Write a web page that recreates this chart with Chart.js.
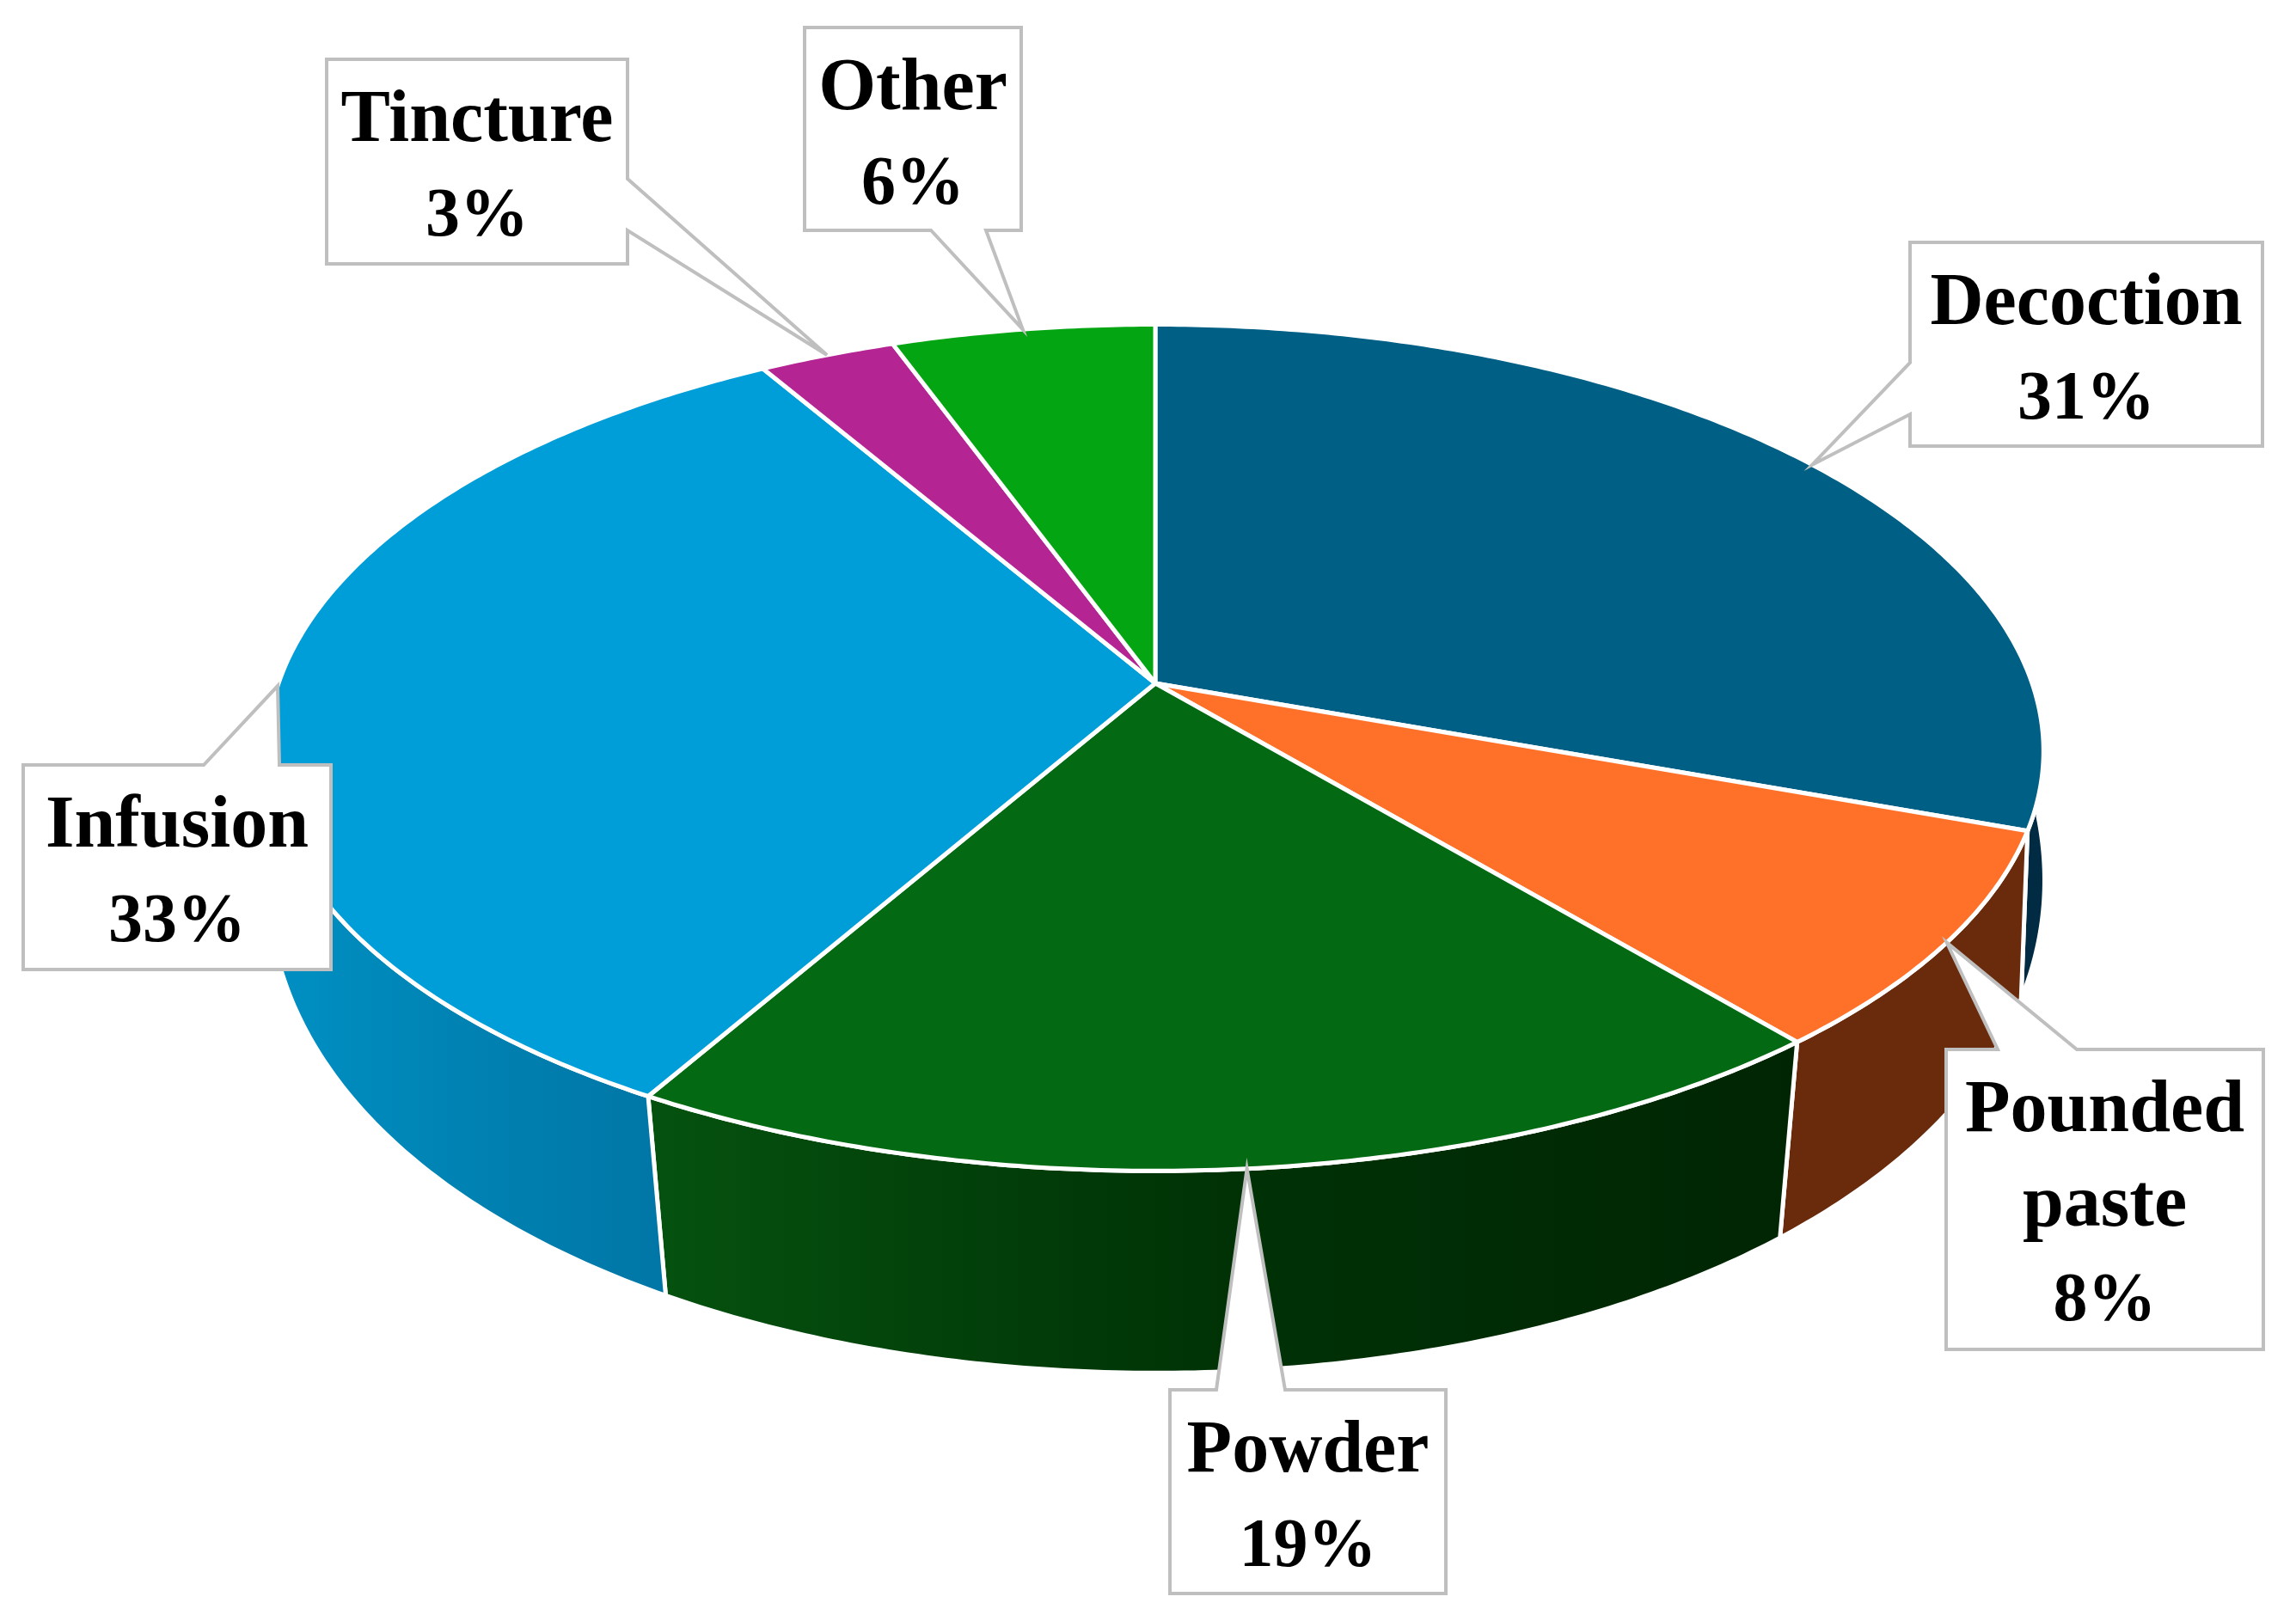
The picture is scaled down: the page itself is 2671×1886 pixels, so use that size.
<!DOCTYPE html>
<html lang="en">
<head>
  <meta charset="UTF-8">
  <title>Preparation forms</title>
  <script src="https://cdn.jsdelivr.net/npm/chart.js"></script>
  <style>
    html, body { margin: 0; padding: 0; background: #fff; overflow: hidden; }
    canvas { display: block; }
  </style>
</head>
<body>
  <canvas id="grafico" width="2671" height="1886"></canvas>

  <script>
    const categories = ['Decoction', 'Pounded paste', 'Powder', 'Infusion', 'Tincture', 'Other'];
    const values = [30.5, 8.4, 19.4, 33.2, 2.9, 5.6];

    const labelLines = [['Decoction'], ['Pounded', 'paste'], ['Powder'], ['Infusion'], ['Tincture'], ['Other']];

    const topColors = ['#005f85', '#ff7029', '#036a13', '#009ed8', '#b42493', '#04a512'];
    const sideStops = [
      ['#002b42', '#002b42'],
      ['#6a2a0c', '#6a2a0c'],
      ['#05520f', '#003206', '#002503'],
      ['#0090c4', '#0082b2', '#0076a6'],
      ['#5a1249', '#5a1249'],
      ['#025209', '#025209']
    ];

    // callout boxes: left, top, right, bottom + which edge the wedge leaves from
    const calloutBoxes = [
      [2222, 282, 2632, 519],
      [2264, 1221, 2633, 1570],
      [1361, 1617, 1682, 1854],
      [27, 890, 385, 1128],
      [380, 69, 730, 307],
      [936, 32, 1188, 268]
    ];
    const calloutSides = ['left', 'top', 'top', 'top', 'right', 'bottom'];
    const calloutBases = [[422, 482], [2324, 2416], [1415, 1495], [237, 325], [208, 268], [1083, 1147]];

    // perspective of the tilted disc
    const CX = 1344, BOT_CX = 1345;
    const TOP_Y = 795, TOP_A = 481, TOP_B = 1020, PERSP_Y = -0.1522, PERSP_X = -0.16;
    const BOT_Y = 950, BOT_A = 615, BOT_B = 1026, BOT_PERSP_Y = -0.05, BOT_PERSP_X = -0.12;

    function rimTop(a) {
      const u = Math.cos(a), v = Math.sin(a);
      return [CX + TOP_B * u / (1 + PERSP_X * v), TOP_Y + TOP_A * v / (1 + PERSP_Y * v)];
    }

    function rimBottom(a) {
      const u = Math.cos(a), v = Math.sin(a);
      return [BOT_CX + BOT_B * u / (1 + BOT_PERSP_X * v), BOT_Y + BOT_A * v / (1 + BOT_PERSP_Y * v)];
    }

    function arcPoints(fn, from, to) {
      const pts = [];
      const n = Math.max(2, Math.ceil(Math.abs(to - from) / 0.01));
      for (let i = 0; i <= n; i++) {
        pts.push(fn(from + (to - from) * i / n));
      }
      return pts;
    }

    function tracePoly(ctx, pts) {
      ctx.beginPath();
      pts.forEach((p, i) => i ? ctx.lineTo(p[0], p[1]) : ctx.moveTo(p[0], p[1]));
      ctx.closePath();
    }

    function drawSides(ctx, arcs) {
      arcs.forEach((arc, i) => {
        // only the front half of the wall shows
        const from = Math.max(arc.startAngle, 0);
        const to = Math.min(arc.endAngle, Math.PI);
        if (to <= from) return;
        const upper = arcPoints(rimTop, from, to);
        const lower = arcPoints(rimBottom, from, to).reverse();
        const pts = upper.concat(lower);
        const xs = pts.map(p => p[0]);
        const grad = ctx.createLinearGradient(Math.min(...xs), 0, Math.max(...xs), 0);
        sideStops[i].forEach((c, k) => grad.addColorStop(k / (sideStops[i].length - 1), c));
        tracePoly(ctx, pts);
        ctx.fillStyle = grad;
        ctx.fill();
        ctx.strokeStyle = '#fff';
        ctx.lineWidth = 5;
        ctx.lineJoin = 'round';
        ctx.stroke();
      });
    }

    function drawTop(ctx, arcs) {
      arcs.forEach((arc, i) => {
        const pts = [[CX, TOP_Y]].concat(arcPoints(rimTop, arc.startAngle, arc.endAngle));
        tracePoly(ctx, pts);
        ctx.fillStyle = topColors[i];
        ctx.fill();
        ctx.strokeStyle = '#fff';
        ctx.lineWidth = 5;
        ctx.lineJoin = 'round';
        ctx.stroke();
      });
    }

    function drawCallouts(ctx, arcs) {
      arcs.forEach((arc, i) => {
        const [l, t, r, b] = calloutBoxes[i];
        const side = calloutSides[i];
        const [b1, b2] = calloutBases[i];
        const tip = rimTop((arc.startAngle + arc.endAngle) / 2);
        const pts = [[l, t]];
        if (side === 'top') pts.push([b1, t], tip, [b2, t]);
        pts.push([r, t]);
        if (side === 'right') pts.push([r, b1], tip, [r, b2]);
        pts.push([r, b]);
        if (side === 'bottom') pts.push([b2, b], tip, [b1, b]);
        pts.push([l, b]);
        if (side === 'left') pts.push([l, b2], tip, [l, b1]);
        tracePoly(ctx, pts);
        ctx.fillStyle = '#fff';
        ctx.fill();
        ctx.strokeStyle = '#bfbfbf';
        ctx.lineWidth = 4;
        ctx.lineJoin = 'miter';
        ctx.stroke();

        ctx.fillStyle = '#000';
        ctx.textAlign = 'center';
        ctx.textBaseline = 'alphabetic';
        ctx.font = 'bold 86px "Liberation Serif"';
        labelLines[i].forEach((txt, k) => ctx.fillText(txt, (l + r) / 2, t + 95 + k * 110));
        ctx.font = 'bold 80px "Liberation Serif"';
        ctx.fillText(Math.round(values[i]) + '%', (l + r) / 2, t + 95 + labelLines[i].length * 110);
      });
    }

    const pie3d = {
      id: 'pie3d',
      beforeDatasetDraw(chart) {
        const ctx = chart.ctx;
        const arcs = chart.getDatasetMeta(0).data;
        ctx.save();
        drawSides(ctx, arcs);
        drawTop(ctx, arcs);
        drawCallouts(ctx, arcs);
        ctx.restore();
        return false; // the flat arcs are replaced by the tilted ones
      }
    };

    new Chart(document.getElementById('grafico').getContext('2d'), {
      type: 'pie',
      data: {
        labels: categories,
        datasets: [{ data: values, backgroundColor: topColors, borderColor: '#fff' }]
      },
      options: {
        responsive: false,
        animation: false,
        plugins: { legend: { display: false }, tooltip: { enabled: false } }
      },
      plugins: [pie3d]
    });
  </script>
</body>
</html>
